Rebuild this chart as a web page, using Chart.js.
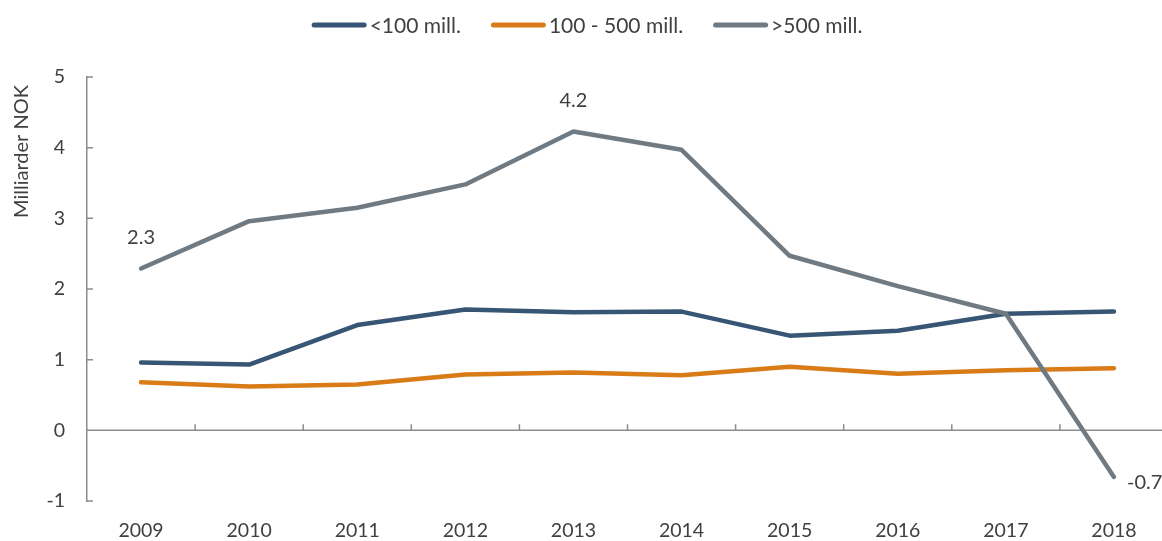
<!DOCTYPE html>
<html>
<head>
<meta charset="utf-8">
<script src="https://cdn.jsdelivr.net/npm/chart.js@4/dist/chart.umd.min.js"></script>
<style>
  html, body { margin: 0; padding: 0; background: #fff; }
  #wrap { width: 1162px; height: 541px; overflow: hidden; position: relative; }
  #box { width: 1174px; height: 541px; position: absolute; left: 0; top: 0; }
</style>
</head>
<body>
<div id="wrap"><div id="box"><canvas id="myChart"></canvas></div></div>
<script>
const years = ['2009','2010','2011','2012','2013','2014','2015','2016','2017','2018'];
const small = [0.96, 0.93, 1.49, 1.71, 1.67, 1.68, 1.34, 1.41, 1.65, 1.68];
const medium = [0.68, 0.62, 0.65, 0.79, 0.82, 0.78, 0.90, 0.80, 0.85, 0.88];
const large = [2.29, 2.96, 3.15, 3.48, 4.23, 3.97, 2.47, 2.04, 1.65, -0.66];
const seriesNames = ['<100 mill.', '100 - 500 mill.', '>500 mill.'];
const labelledPoints = [0, 4, 9]; // punkter med verdi skrevet ut (>500 mill.)
const yTitle = 'Milliarder NOK';

const colBlue = '#375574';
const colOrange = '#d97b17';
const colGrey = '#707a82';
const textCol = '#404040';
const axisCol = '#8c8c8c';
const fontFam = "Lato, 'Open Sans', sans-serif";

// tick-streker, nullinje, verdier, aksetittel og legende som i originalen
const axisMarks = {
  id: 'axisMarks',
  beforeDatasetsDraw(chart) {
    const { ctx, chartArea, scales } = chart;
    const x = scales.x, y = scales.y;
    const y0 = y.getPixelForValue(0);
    ctx.save();
    ctx.strokeStyle = axisCol;
    ctx.lineWidth = 1.5;
    ctx.beginPath();
    ctx.moveTo(chartArea.left, y0);
    ctx.lineTo(chartArea.right, y0);
    // x-ticks mellom kategoriene
    for (let i = 1; i < years.length; i++) {
      const px = (x.getPixelForValue(i - 1) + x.getPixelForValue(i)) / 2;
      ctx.moveTo(px, y0);
      ctx.lineTo(px, y0 - 6);
    }
    // y-ticks innover
    y.ticks.forEach(t => {
      const py = y.getPixelForValue(t.value);
      ctx.moveTo(chartArea.left, py);
      ctx.lineTo(chartArea.left + 6, py);
    });
    ctx.stroke();

    // aksetittel
    ctx.translate(22, chartArea.top + 8);
    ctx.rotate(-Math.PI / 2);
    ctx.fillStyle = textCol;
    ctx.font = '20px ' + fontFam;
    ctx.textAlign = 'right';
    ctx.textBaseline = 'middle';
    ctx.fillText(yTitle, 0, 0);
    ctx.restore();
  },
  afterDatasetsDraw(chart) {
    const { ctx } = chart;
    const meta = chart.getDatasetMeta(2);
    ctx.save();
    ctx.fillStyle = textCol;
    ctx.font = '20px ' + fontFam;
    labelledPoints.forEach(i => {
      const p = meta.data[i];
      const txt = large[i].toFixed(1);
      if (i === years.length - 1) {
        ctx.textAlign = 'left';
        ctx.textBaseline = 'middle';
        ctx.fillText(txt, p.x + 13, p.y + 6);
      } else {
        ctx.textAlign = 'center';
        ctx.textBaseline = 'middle';
        ctx.fillText(txt, p.x, p.y - 31);
      }
    });

    // legende
    const sw = 55, gap = 3, itemGap = 30, ly = 25;
    ctx.font = '21px ' + fontFam;
    const ds = chart.data.datasets;
    const widths = ds.map(d => sw + gap + ctx.measureText(d.label).width);
    const total = widths.reduce((a, b) => a + b, 0) + itemGap * (ds.length - 1);
    let lx = chart.width / 2 - total / 2;
    ds.forEach((d, i) => {
      ctx.strokeStyle = d.borderColor;
      ctx.lineWidth = 5;
      ctx.lineCap = 'round';
      ctx.beginPath();
      ctx.moveTo(lx + 2.5, ly);
      ctx.lineTo(lx + sw - 2.5, ly);
      ctx.stroke();
      ctx.fillStyle = textCol;
      ctx.textAlign = 'left';
      ctx.textBaseline = 'middle';
      ctx.fillText(d.label, lx + sw + gap, ly + 1);
      lx += widths[i] + itemGap;
    });
    ctx.restore();
  }
};

const setup = () => {
  const ctxt = document.getElementById('myChart').getContext('2d');
  const mk = (label, data, color, order) => ({
    label, data,
    borderColor: color, backgroundColor: color,
    borderWidth: 4.5, pointRadius: 0, tension: 0,
    borderCapStyle: 'round', borderJoinStyle: 'round',
    order
  });

  new Chart(ctxt, {
    type: 'line',
    data: {
      labels: years,
      datasets: [
        mk(seriesNames[0], small, colBlue, 1),
        mk(seriesNames[1], medium, colOrange, 2),
        mk(seriesNames[2], large, colGrey, 0)
      ]
    },
    options: {
      responsive: true,
      maintainAspectRatio: false,
      animation: false,
      layout: { padding: { top: 77, right: 6, left: 4, bottom: 0 } },
      plugins: {
        tooltip: { enabled: false },
        legend: { display: false }
      },
      scales: {
        x: {
          offset: true,
          grid: { display: false, drawTicks: false },
          border: { display: false },
          ticks: { color: textCol, font: { family: fontFam, size: 19.5 }, padding: 18, maxRotation: 0 },
          afterFit(scale) { scale.height = 40; }
        },
        y: {
          min: -1,
          max: 5,
          grid: { display: false, drawTicks: false },
          border: { display: true, color: axisCol, width: 1.5 },
          ticks: { stepSize: 1, color: textCol, font: { family: fontFam, size: 19.5 }, padding: 22 },
          afterFit(scale) { scale.width = 83; }
        }
      }
    },
    plugins: [axisMarks]
  });
};

window.addEventListener('DOMContentLoaded', setup);
</script>
</body>
</html>
